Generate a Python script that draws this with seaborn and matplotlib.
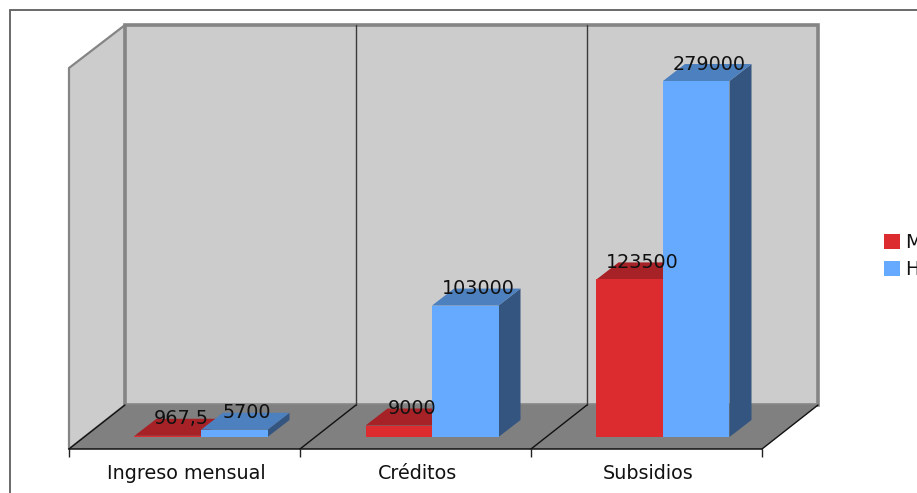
import matplotlib
matplotlib.use("Agg")
import matplotlib.pyplot as plt
from matplotlib.patches import Polygon, Rectangle
from matplotlib.lines import Line2D
import pandas as pd
import seaborn as sns

categories = ["Ingreso mensual", "Créditos", "Subsidios"]
mujeres = [967.5, 9000, 123500]
hombres = [5700, 103000, 279000]
series_names = ["M", "H"]

RED, BLUE = "#dd2c30", "#66aaff"
FACE_TOP = {RED: "#a62226", BLUE: "#4d80bf"}
FACE_SIDE = {RED: "#6f171a", BLUE: "#335580"}
WALL, FLOOR, EDGE = "#cccccc", "#808080", "#858585"
FS = 13.8

W, H = 917, 493
BASE_PX, UNIT_PX = 437, 279000 / 356   # value 0 pixel row; value per pixel
SLOT_PX, FIRST_BAR_PX = 231, 201
DX, DY = 22, 17        # bar depth, in pixels

def X(p):
    return (p - FIRST_BAR_PX) / SLOT_PX

def Y(p):
    return (BASE_PX - p) * UNIT_PX

def P(pts):
    return [(X(a), Y(b)) for a, b in pts]

sns.set_theme(style="white")
plt.rcParams["font.family"] = ["DejaVu Sans"]

df = pd.DataFrame({
    "cat": categories * 2,
    "serie": [series_names[0]] * 3 + [series_names[1]] * 3,
    "valor": mujeres + hombres,
})

fig = plt.figure(figsize=(W / 100, H / 100), dpi=100, facecolor="white")
ax = fig.add_axes([0, 0, 1, 1])
sns.barplot(data=df, x="cat", y="valor", hue="serie", order=categories,
            hue_order=series_names, palette=[RED, BLUE], saturation=1,
            width=133 / SLOT_PX, gap=0, linewidth=0, ax=ax, legend=True)

ax.set_xlim(X(0), X(W))
ax.set_ylim(Y(H), Y(0))
ax.patch.set_alpha(0)

# outer frame, running off the right and bottom of the picture
ax.add_patch(Rectangle((X(9.5), Y(W)), X(W + 50) - X(9.5), Y(10) - Y(W), fill=False,
                       ec="#5e5e5e", lw=1.3, zorder=0.5))

# walls and floor
ax.add_patch(Polygon(P([(69, 449), (125, 405), (125, 25), (69, 68)]), fc=WALL,
                     ec=EDGE, lw=1.6, zorder=1))
ax.add_patch(Rectangle((X(125), Y(405)), X(818) - X(125), Y(25) - Y(405), fc=WALL,
                       ec=EDGE, lw=2.6, zorder=1))
ax.add_patch(Polygon(P([(69, 449), (762, 449), (818, 405), (125, 405)]), fc=FLOOR,
                     ec="none", zorder=1.2))
for i in range(1, 3):
    ax.add_line(Line2D([X(125 + SLOT_PX * i)] * 2, [Y(405), Y(25)], color="#3a3a3a",
                       lw=1.0, zorder=1.3))
for i in range(4):
    ax.add_line(Line2D([X(69 + SLOT_PX * i), X(125 + SLOT_PX * i)], [Y(449), Y(405)],
                       color="#111111", lw=1.0, zorder=1.3))

# 3D faces and value labels, built from the bars seaborn drew
for z, (cont, color) in enumerate(zip(ax.containers[:2], [RED, BLUE])):
    for bar in cont:
        x0, x1 = bar.get_x(), bar.get_x() + bar.get_width()
        v = bar.get_height()
        dx, dy = DX / SLOT_PX, DY * UNIT_PX
        ax.add_patch(Polygon([(x1, 0), (x1 + dx, dy), (x1 + dx, v + dy), (x1, v)],
                             fc=FACE_SIDE[color], ec="none", zorder=2 + z))
        ax.add_patch(Polygon([(x0, v), (x1, v), (x1 + dx, v + dy), (x0 + dx, v + dy)],
                             fc=FACE_TOP[color], ec="none", zorder=2 + z))
        bar.set_zorder(2.5 + z)
        ax.text((x0 + x1) / 2 + 13 / SLOT_PX, v + dy, f"{v:g}".replace(".", ","),
                ha="center", va="center", fontsize=FS, color="#111111", zorder=6)

# category axis
sns.despine(ax=ax, left=True, top=True, right=True)
ax.spines["bottom"].set_position(("data", Y(449)))
ax.spines["bottom"].set_bounds(X(69), X(762))
ax.spines["bottom"].set_color("#111111")
ax.spines["bottom"].set_linewidth(1.1)
ax.spines["bottom"].set_zorder(5)
ax.set_xticks([X(186.5 + SLOT_PX * i) for i in range(3)], categories)
ax.set_xticks([X(69 + SLOT_PX * i) for i in range(4)], minor=True)
ax.tick_params(axis="x", which="major", length=0, pad=11, labelsize=FS, labelcolor="#111111")
ax.tick_params(axis="x", which="minor", length=6, width=1, color="#222222", bottom=True)
ax.set_yticks([])
ax.set_xlabel("")
ax.set_ylabel("")

handles, labels = ax.get_legend_handles_labels()
ax.legend(handles, labels, loc="upper left", bbox_to_anchor=(867 / W, 1 - 216 / H),
          frameon=False, fontsize=FS, handlelength=0.82, handleheight=0.82,
          handletextpad=0.27, labelspacing=0.41, borderpad=0.4, labelcolor="#111111")

fig.savefig("out.png", dpi=100)
